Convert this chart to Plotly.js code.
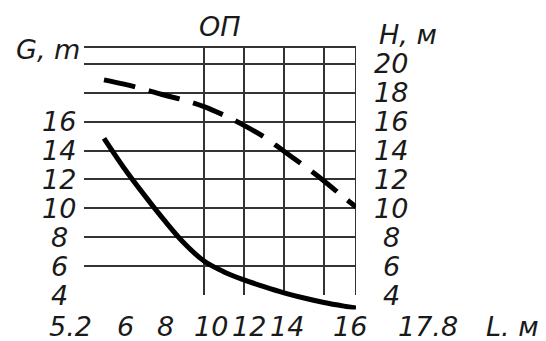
<!DOCTYPE html>
<html>
<head>
<meta charset="utf-8">
<script src="https://cdn.plot.ly/plotly-3.0.1.min.js"></script>
<style>
html,body{margin:0;padding:0;background:#fff;}
#chart{width:546px;height:341px;}
</style>
</head>
<body>
<div id="chart"></div>
<script>
// ---- data ----
const L = [5.0, 6, 7, 8, 9, 10, 11, 12, 13, 14, 15, 16, 17, 17.6];
const G = [14.85, 12.8, 10.95, 9.2, 7.6, 6.35, 5.6, 5.05, 4.58, 4.15, 3.79, 3.48, 3.23, 3.1];
const H = [18.9, 18.6, 18.25, 17.85, 17.5, 17.05, 16.45, 15.75, 14.95, 13.95, 12.95, 11.9, 10.75, 10.1];
const gTicks = [4, 6, 8, 10, 12, 14, 16];
const hTicks = [4, 6, 8, 10, 12, 14, 16, 18, 20];
const xTickText = ['5.2', '6', '8', '10', '12', '14', '16', '17.8'];
const xGrid = [10, 12, 14, 16];
const hGrid = [6, 8, 10, 12, 14, 16, 18, 20];
const titleText = 'ОП';
const gTitle = 'G, m';
const hTitle = 'H, м';
const lTitle = 'L. м';

// ---- layout (pixel placement) ----
const W = 546, HT = 341;
const px = v => v / W;
const py = v => 1 - v / HT;
const xRange = [4, 17.6];
const yRange = [3, 21.105];
const xLabelPx = [70, 125, 165, 211, 249, 287, 350, 428];
const font = {family: 'DejaVu Sans', size: 27, color: '#1a1a1a', style: 'italic'};
const lineCol = '#333';

const shapes = xGrid.concat([xRange[1]]).map(v => ({
  type: 'line', xref: 'x', yref: 'y', x0: v, x1: v, y0: 4, y1: yRange[1],
  line: {color: lineCol, width: 2}, layer: 'below'
}));

const ann = [];
gTicks.forEach(v => ann.push({xref: 'paper', yref: 'y', x: px(59), y: v, text: String(v),
  xanchor: 'center', yanchor: 'middle', showarrow: false, font: font}));
hTicks.forEach(v => ann.push({xref: 'paper', yref: 'y', x: px(391), y: v, text: String(v),
  xanchor: 'center', yanchor: 'middle', showarrow: false, font: font}));
xTickText.forEach((t, i) => ann.push({xref: 'paper', yref: 'paper', x: px(xLabelPx[i]), y: py(326),
  text: t, xanchor: 'center', yanchor: 'middle', showarrow: false, font: font}));
ann.push({xref: 'paper', yref: 'paper', x: px(512), y: py(326), text: lTitle,
  xanchor: 'center', yanchor: 'middle', showarrow: false, font: font});
ann.push({xref: 'paper', yref: 'paper', x: px(220), y: py(26), text: titleText,
  xanchor: 'center', yanchor: 'middle', showarrow: false, font: font});
ann.push({xref: 'paper', yref: 'paper', x: px(48), y: py(50), text: gTitle,
  xanchor: 'center', yanchor: 'middle', showarrow: false, font: font});
ann.push({xref: 'paper', yref: 'paper', x: px(408), y: py(34), text: hTitle,
  xanchor: 'center', yanchor: 'middle', showarrow: false, font: font});

const traces = [
  {x: L, y: G, type: 'scatter', mode: 'lines', name: 'G',
   line: {color: '#000', width: 5, shape: 'spline', smoothing: 1}},
  {x: L, y: H, type: 'scatter', mode: 'lines', name: 'H',
   line: {color: '#000', width: 5, dash: '32px,14px', shape: 'spline', smoothing: 1}}
];

const layout = {
  width: W, height: HT,
  margin: {l: 0, r: 0, t: 0, b: 0, pad: 0},
  paper_bgcolor: '#fff', plot_bgcolor: '#fff',
  showlegend: false,
  xaxis: {domain: [px(84), px(356)], range: xRange, tickvals: xGrid, showticklabels: false,
    showgrid: false, zeroline: false, showline: true, side: 'top', linecolor: lineCol, linewidth: 2,
    ticks: '', fixedrange: true},
  yaxis: {domain: [py(309.44), py(48)], range: yRange, tickvals: hGrid, showticklabels: false,
    showgrid: true, gridcolor: lineCol, gridwidth: 2, zeroline: false, showline: false,
    ticks: '', fixedrange: true},
  shapes: shapes,
  annotations: ann
};

Plotly.newPlot('chart', traces, layout, {staticPlot: true, displayModeBar: false});
</script>
</body>
</html>
